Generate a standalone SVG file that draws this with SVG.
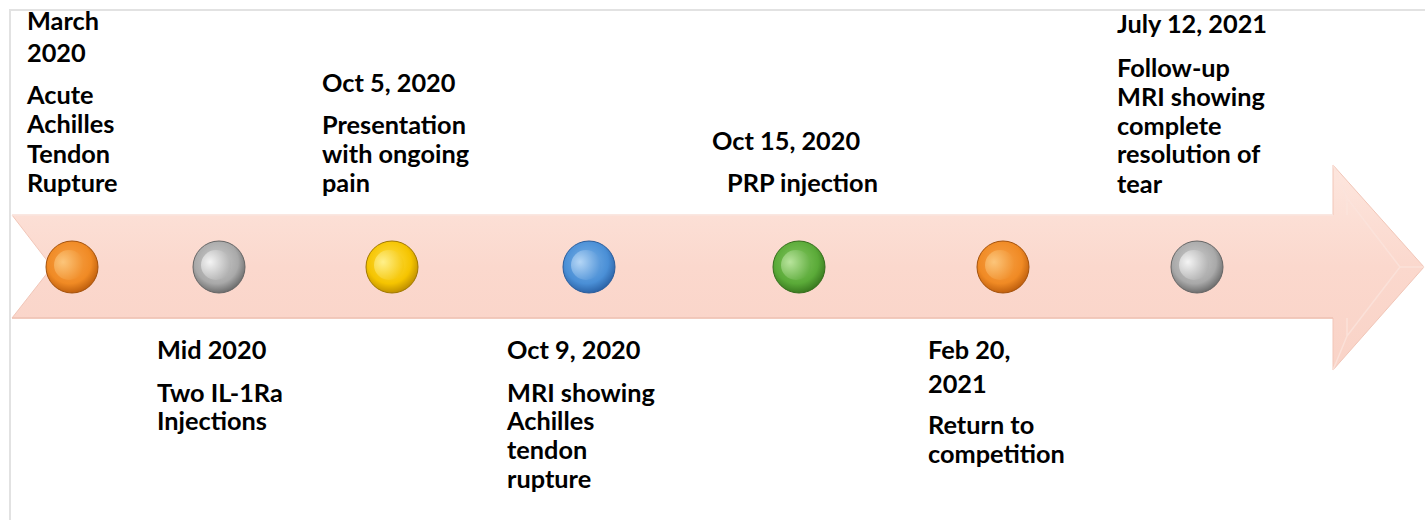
<svg xmlns="http://www.w3.org/2000/svg" width="1425" height="520" viewBox="0 0 1425 520">
<style>
.t{font-family:Lato,"Liberation Sans",sans-serif;font-weight:bold;font-size:25.3px;fill:#000}
.frame{stroke:#e2e2e2;stroke-width:2;fill:none}
.rim{stroke-width:1}
</style>
<defs>
<linearGradient id="arrowG" x1="0" y1="0" x2="0" y2="1">
<stop offset="0" stop-color="#fde6de"/>
<stop offset="0.5" stop-color="#fbd8cd"/>
<stop offset="1" stop-color="#f9d3c7"/>
</linearGradient>
<radialGradient id="gOrange" cx="0.45" cy="0.4" r="0.6">
<stop offset="0" stop-color="#f7a24a"/>
<stop offset="0.7" stop-color="#f08a24"/>
<stop offset="1" stop-color="#c0600e"/>
</radialGradient>
<radialGradient id="iOrange" cx="0.3" cy="0.4" r="0.8">
<stop offset="0" stop-color="#fcc57a"/>
<stop offset="1" stop-color="#f08a24"/>
</radialGradient>
<radialGradient id="gGray" cx="0.45" cy="0.4" r="0.6">
<stop offset="0" stop-color="#cfcfcf"/>
<stop offset="0.7" stop-color="#a9a9a9"/>
<stop offset="1" stop-color="#6e6e6e"/>
</radialGradient>
<radialGradient id="iGray" cx="0.3" cy="0.4" r="0.8">
<stop offset="0" stop-color="#f4f4f4"/>
<stop offset="1" stop-color="#a9a9a9"/>
</radialGradient>
<radialGradient id="gYellow" cx="0.45" cy="0.4" r="0.6">
<stop offset="0" stop-color="#ffe04a"/>
<stop offset="0.7" stop-color="#f5c400"/>
<stop offset="1" stop-color="#c09000"/>
</radialGradient>
<radialGradient id="iYellow" cx="0.3" cy="0.4" r="0.8">
<stop offset="0" stop-color="#fff08a"/>
<stop offset="1" stop-color="#f5c400"/>
</radialGradient>
<radialGradient id="gBlue" cx="0.45" cy="0.4" r="0.6">
<stop offset="0" stop-color="#7ab2e8"/>
<stop offset="0.7" stop-color="#4a8fd6"/>
<stop offset="1" stop-color="#2c64a8"/>
</radialGradient>
<radialGradient id="iBlue" cx="0.3" cy="0.4" r="0.8">
<stop offset="0" stop-color="#b4d6f6"/>
<stop offset="1" stop-color="#4a8fd6"/>
</radialGradient>
<radialGradient id="gGreen" cx="0.45" cy="0.4" r="0.6">
<stop offset="0" stop-color="#86c862"/>
<stop offset="0.7" stop-color="#5aaa38"/>
<stop offset="1" stop-color="#3a7a20"/>
</radialGradient>
<radialGradient id="iGreen" cx="0.3" cy="0.4" r="0.8">
<stop offset="0" stop-color="#b8e49c"/>
<stop offset="1" stop-color="#5aaa38"/>
</radialGradient>
</defs>
<rect width="1425" height="520" fill="#ffffff"/>
<path class="frame" d="M10,520 L10,10 L1425,10"/>

<g id="arrow">
<path d="M12,215 L1333,215 L1333,165 L1424,267 L1333,370 L1333,318 L12,318 L52,267 Z" fill="url(#arrowG)" stroke="#f1c6b8" stroke-width="1"/>
<path d="M1347,198 L1333,165 M1347,198 L1347,215 M1347,198 L1400,267 L1347,336 L1347,318 M1347,336 L1333,370 M1400,267 L1424,267" fill="none" stroke="#fbe4dc" stroke-width="1.5" opacity="0.8"/>
<path d="M12,215 L1333,215" stroke="#fbe9e3" stroke-width="1.5"/>
<path d="M12,318 L1333,318" stroke="#efc3b5" stroke-width="1.5"/>
</g>

<g id="dots">
<g id="dot1"><circle cx="72" cy="267" r="26" fill="url(#gOrange)" stroke="#a4520c" class="rim"/><circle cx="69" cy="265" r="15" fill="url(#iOrange)"/></g>
<g id="dot2"><circle cx="219" cy="267" r="26" fill="url(#gGray)" stroke="#666" class="rim"/><circle cx="216" cy="265" r="15" fill="url(#iGray)"/></g>
<g id="dot3"><circle cx="392" cy="267" r="26" fill="url(#gYellow)" stroke="#a07800" class="rim"/><circle cx="389" cy="265" r="15" fill="url(#iYellow)"/></g>
<g id="dot4"><circle cx="589" cy="267" r="26" fill="url(#gBlue)" stroke="#2a5d9c" class="rim"/><circle cx="586" cy="265" r="15" fill="url(#iBlue)"/></g>
<g id="dot5"><circle cx="799" cy="267" r="26" fill="url(#gGreen)" stroke="#356e1c" class="rim"/><circle cx="796" cy="265" r="15" fill="url(#iGreen)"/></g>
<g id="dot6"><circle cx="1003" cy="267" r="26" fill="url(#gOrange)" stroke="#a4520c" class="rim"/><circle cx="1000" cy="265" r="15" fill="url(#iOrange)"/></g>
<g id="dot7"><circle cx="1197" cy="267" r="26" fill="url(#gGray)" stroke="#666" class="rim"/><circle cx="1194" cy="265" r="15" fill="url(#iGray)"/></g>
</g>

<g id="ev1">
<text class="t" x="27" y="30">March</text>
<text class="t" x="27" y="62">2020</text>
<text class="t" x="27" y="104">Acute</text>
<text class="t" x="27" y="133">Achilles</text>
<text class="t" x="27" y="163">Tendon</text>
<text class="t" x="27" y="192">Rupture</text>
</g>
<g id="ev2">
<text class="t" x="157" y="359">Mid 2020</text>
<text class="t" x="157" y="402">Two IL-1Ra</text>
<text class="t" x="157" y="430">Injections</text>
</g>
<g id="ev3">
<text class="t" x="322" y="92">Oct 5, 2020</text>
<text class="t" x="322" y="134">Presentation</text>
<text class="t" x="322" y="163">with ongoing</text>
<text class="t" x="322" y="192">pain</text>
</g>
<g id="ev4">
<text class="t" x="507" y="359">Oct 9, 2020</text>
<text class="t" x="507" y="402">MRI showing</text>
<text class="t" x="507" y="430">Achilles</text>
<text class="t" x="507" y="459">tendon</text>
<text class="t" x="507" y="488">rupture</text>
</g>
<g id="ev5">
<text class="t" x="712" y="150">Oct 15, 2020</text>
<text class="t" x="727" y="192">PRP injection</text>
</g>
<g id="ev6">
<text class="t" x="928" y="359">Feb 20,</text>
<text class="t" x="928" y="393">2021</text>
<text class="t" x="928" y="434">Return to</text>
<text class="t" x="928" y="463">competition</text>
</g>
<g id="ev7">
<text class="t" x="1117" y="33">July 12, 2021</text>
<text class="t" x="1117" y="77">Follow-up</text>
<text class="t" x="1117" y="106">MRI showing</text>
<text class="t" x="1117" y="135">complete</text>
<text class="t" x="1117" y="163">resolution of</text>
<text class="t" x="1117" y="193">tear</text>
</g>
</svg>
